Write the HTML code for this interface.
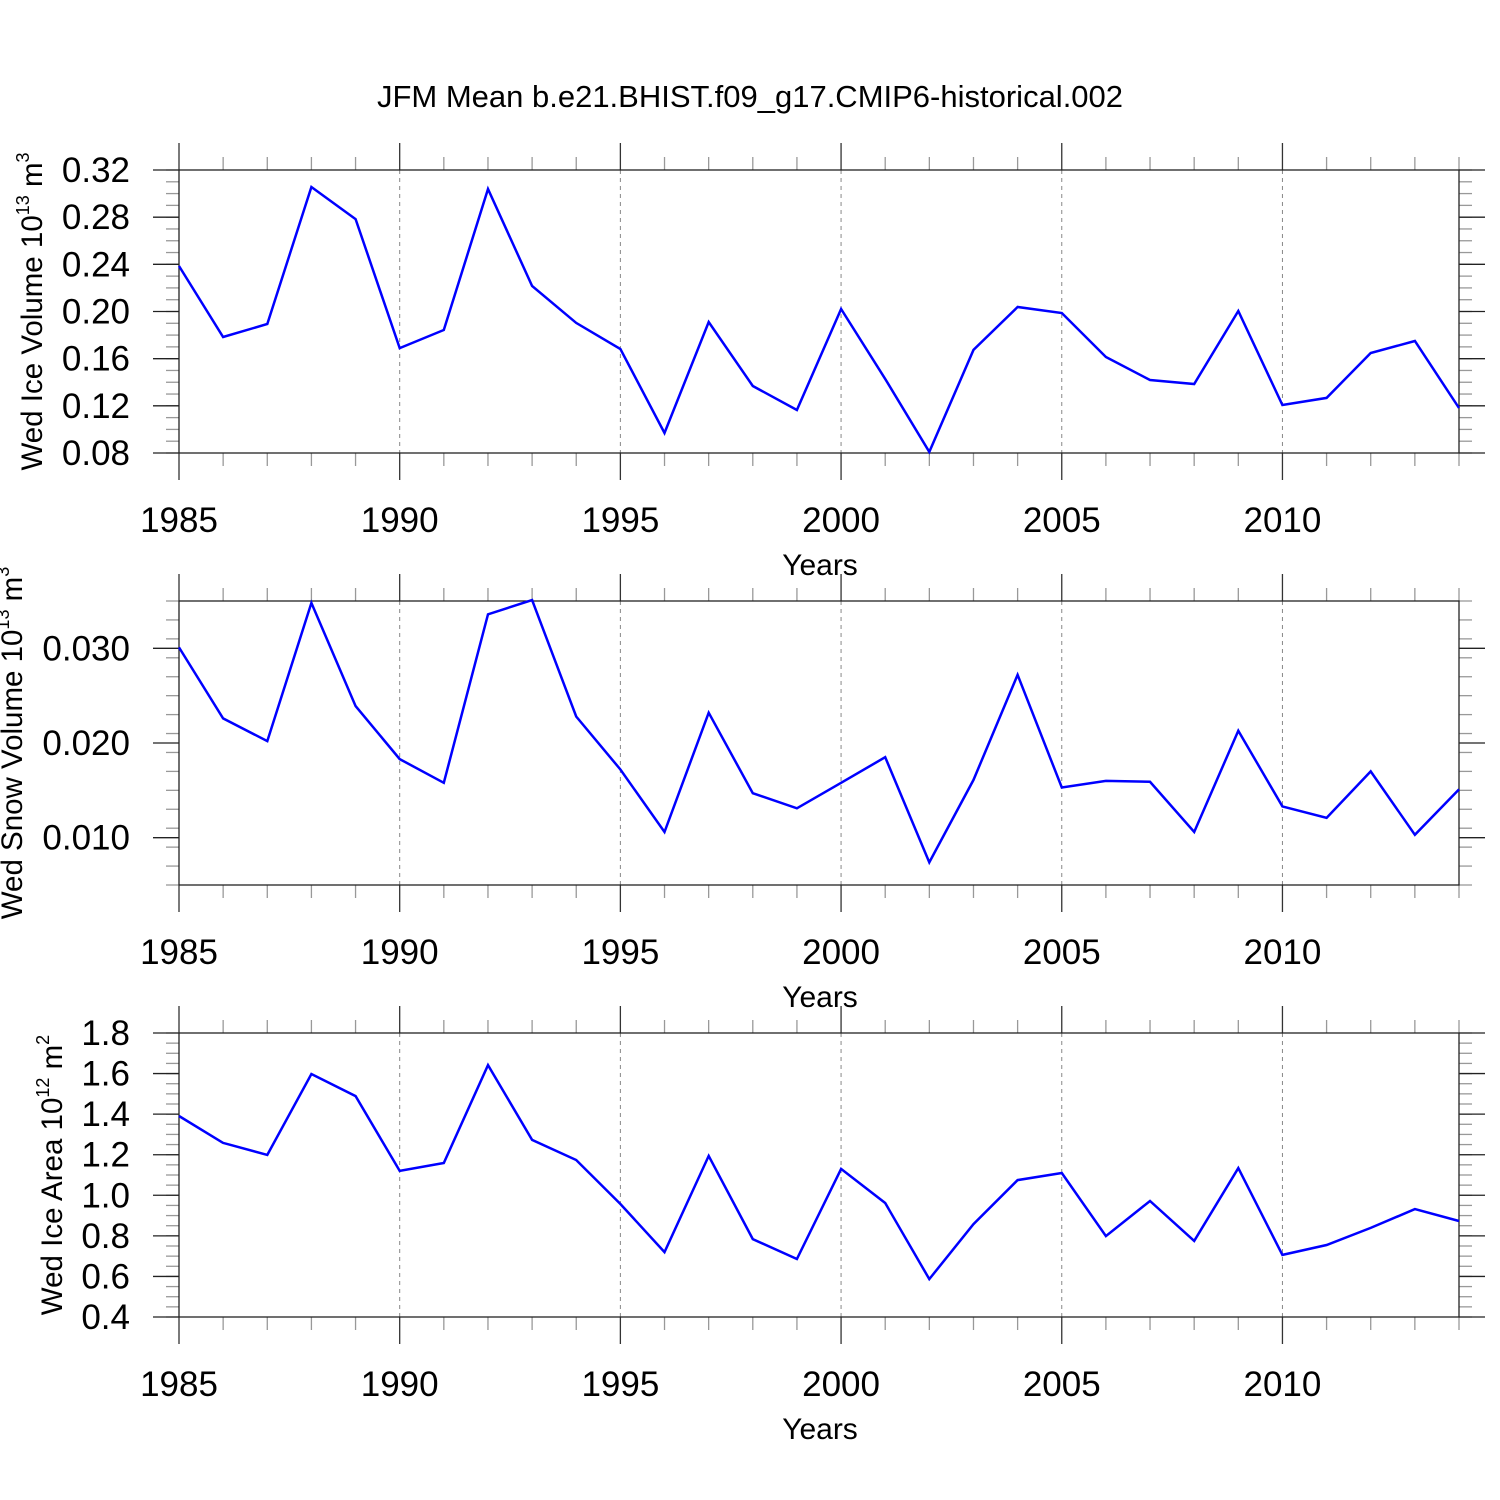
<!DOCTYPE html>
<html><head><meta charset="utf-8">
<style>html,body{margin:0;padding:0;background:#fff;}svg{display:block;font-family:"Liberation Sans",Arial,sans-serif;}</style>
</head><body>
<svg id="chart" width="1500" height="1500" viewBox="0 0 1500 1500" xmlns="http://www.w3.org/2000/svg">
<text x="750" y="107" font-size="31" text-anchor="middle">JFM Mean b.e21.BHIST.f09_g17.CMIP6-historical.002</text>
</svg>
<script>
const years = [1985,1986,1987,1988,1989,1990,1991,1992,1993,1994,1995,1996,1997,1998,1999,2000,2001,2002,2003,2004,2005,2006,2007,2008,2009,2010,2011,2012,2013,2014];
const iceVolume = [0.2386,0.1784,0.1894,0.3056,0.2784,0.169,0.1843,0.3039,0.2216,0.1903,0.1682,0.097,0.1911,0.1368,0.1165,0.2021,0.1428,0.0809,0.1674,0.2038,0.1987,0.1614,0.1419,0.1385,0.2004,0.1207,0.1267,0.1648,0.175,0.1182];
const snowVolume = [0.0301,0.0226,0.0202,0.0348,0.0239,0.0183,0.0158,0.0336,0.0351,0.0228,0.0172,0.0106,0.0232,0.0147,0.0131,0.0158,0.0185,0.0074,0.0161,0.0272,0.0153,0.0160,0.0159,0.0106,0.0213,0.0133,0.0121,0.0170,0.0103,0.0151];
const iceArea = [1.391,1.258,1.199,1.598,1.489,1.120,1.159,1.642,1.273,1.174,0.957,0.720,1.194,0.784,0.686,1.130,0.962,0.587,0.858,1.075,1.110,0.799,0.972,0.775,1.134,0.706,0.755,0.839,0.932,0.873];
const xTickLabels = [1985,1990,1995,2000,2005,2010];
const iceVolTicks = ["0.08","0.12","0.16","0.20","0.24","0.28","0.32"];
const snowVolTicks = ["0.010","0.020","0.030"];
const iceAreaTicks = ["0.4","0.6","0.8","1.0","1.2","1.4","1.6","1.8"];

const svg = document.getElementById('chart');
const NS = 'http://www.w3.org/2000/svg';
function mk(tag, attrs, parent){const e=document.createElementNS(NS,tag);for(const k in attrs)e.setAttribute(k,attrs[k]);(parent||svg).appendChild(e);return e;}

const X0=179,X1=1459;
function xs(yr){return X0+(yr-1985)/(2014-1985)*(X1-X0);}

const panels=[
 {name:'ice-volume',top:170,bot:453,min:0.08,max:0.32,data:iceVolume,ticks:iceVolTicks,minor:0.01,title:'Wed Ice Volume 10',sup:'13',unit:' m',usup:'3',titleX:32},
 {name:'snow-volume',top:601,bot:885,min:0.005,max:0.035,data:snowVolume,ticks:snowVolTicks,minor:0.002,title:'Wed Snow Volume 10',sup:'13',unit:' m',usup:'3',titleX:12},
 {name:'ice-area',top:1033,bot:1317,min:0.4,max:1.8,data:iceArea,ticks:iceAreaTicks,minor:0.05,title:'Wed Ice Area 10',sup:'12',unit:' m',usup:'2',titleX:52}
];

panels.forEach(p=>{
  const g=mk('g',{});
  
  
  const ys=v=>p.bot-(v-p.min)/(p.max-p.min)*(p.bot-p.top);
  xTickLabels.forEach(yr=>{
    if(yr===1985)return;
    const l=mk('line',{x1:xs(yr),x2:xs(yr),y1:p.top,y2:p.bot,stroke:'#888','stroke-width':1,'stroke-dasharray':'4,4'},g);
    
    
  });
  years.forEach(yr=>{
    const major=(yr%5===0);
    const len=major?27:13;
    const col=major?'#333':'#999';
    mk('line',{x1:xs(yr),x2:xs(yr),y1:p.top,y2:p.top-len,stroke:col,'stroke-width':1.3},g);
    mk('line',{x1:xs(yr),x2:xs(yr),y1:p.bot,y2:p.bot+len,stroke:col,'stroke-width':1.3},g);
  });
  const nMin=Math.round((p.max-p.min)/p.minor);
  for(let i=0;i<=nMin;i++){
    const v=p.min+i*p.minor;const y=ys(v);
    mk('line',{x1:X0,x2:X0-13,y1:y,y2:y,stroke:'#999','stroke-width':1.3},g);
    mk('line',{x1:X1,x2:X1+13,y1:y,y2:y,stroke:'#999','stroke-width':1.3},g);
  }
  p.ticks.forEach(t=>{
    const y=ys(parseFloat(t));
    mk('line',{x1:X0,x2:X0-26,y1:y,y2:y,stroke:'#222','stroke-width':1.3},g);
    mk('line',{x1:X1,x2:X1+26,y1:y,y2:y,stroke:'#222','stroke-width':1.3},g);
    const tx=mk('text',{x:130,y:y+12,'font-size':35,'text-anchor':'end'},g);
    tx.textContent=t;
    
    
  });
  const fr=mk('rect',{x:X0,y:p.top,width:X1-X0,height:p.bot-p.top,fill:'none',stroke:'#222','stroke-width':1.3},g);
  
  
  xTickLabels.forEach(yr=>{
    const tx=mk('text',{x:xs(yr),y:p.bot+79,'font-size':35,'text-anchor':'middle'},g);
    tx.textContent=yr;
    
    
  });
  const xt=mk('text',{x:820,y:p.bot+122,'font-size':30,'text-anchor':'middle'},g);
  xt.textContent='Years';
  
  
  const mid=(p.top+p.bot)/2;
  const yt=mk('text',{x:0,y:0,'font-size':29.5,'text-anchor':'middle',transform:'translate('+(p.titleX+10)+','+mid+') rotate(-90)'},g);
  
  
  const a=document.createElementNS(NS,'tspan');a.textContent=p.title;yt.appendChild(a);
  const b=document.createElementNS(NS,'tspan');b.setAttribute('dy','-13');b.setAttribute('font-size','18');b.textContent=p.sup;yt.appendChild(b);
  const c=document.createElementNS(NS,'tspan');c.setAttribute('dy','13');c.textContent=p.unit;yt.appendChild(c);
  const d=document.createElementNS(NS,'tspan');d.setAttribute('dy','-13');d.setAttribute('font-size','18');d.textContent=p.usup;yt.appendChild(d);
  const pts=years.map((yr,i)=>xs(yr).toFixed(1)+','+ys(p.data[i]).toFixed(1)).join(' ');
  const pl=mk('polyline',{points:pts,fill:'none',stroke:'#0000ff','stroke-width':2.5,'stroke-linejoin':'miter'},g);
  
  
});
</script>
</body></html>
